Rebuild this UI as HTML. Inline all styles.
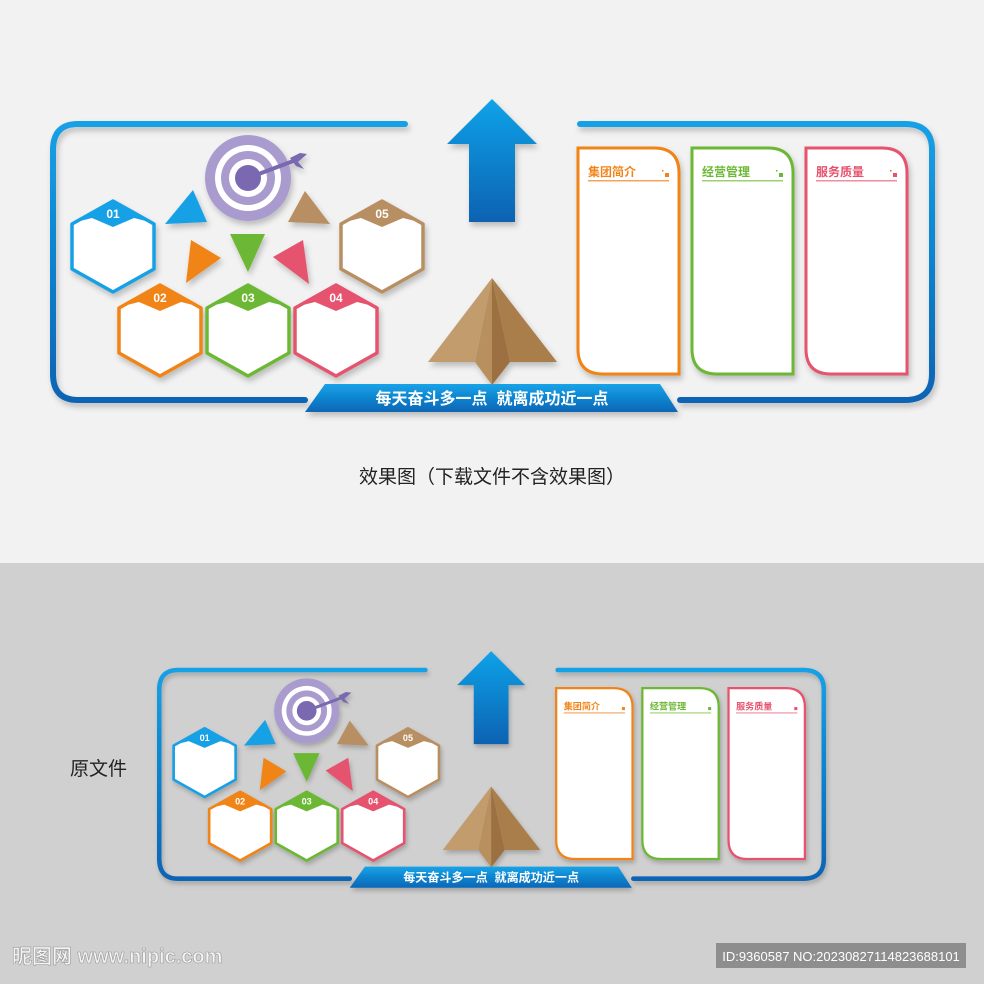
<!DOCTYPE html>
<html><head><meta charset="utf-8"><style>
html,body{margin:0;padding:0}
body{width:984px;height:984px;overflow:hidden;font-family:"Liberation Sans","Noto Sans CJK SC",sans-serif}
</style></head><body>
<svg width="984" height="984" viewBox="0 0 984 984" xmlns="http://www.w3.org/2000/svg" font-family="Liberation Sans, Noto Sans CJK SC, sans-serif">
<defs>
<linearGradient id="fr" x1="0" y1="0" x2="0" y2="1"><stop offset="0" stop-color="#14a0e6"/><stop offset="1" stop-color="#0a64b4"/></linearGradient>
<linearGradient id="ar" x1="0" y1="0" x2="0" y2="1"><stop offset="0" stop-color="#12a2e8"/><stop offset="1" stop-color="#0a62b2"/></linearGradient>
<linearGradient id="bn" x1="0" y1="0" x2="0" y2="1"><stop offset="0" stop-color="#15a3e8"/><stop offset="1" stop-color="#0a66b6"/></linearGradient>
<filter id="sh" x="-20%" y="-20%" width="140%" height="140%"><feDropShadow dx="2" dy="4" stdDeviation="3" flood-color="#000" flood-opacity="0.22"/></filter>
</defs>
<rect x="0" y="0" width="984" height="563" fill="#f2f2f2"/>
<rect x="0" y="563" width="984" height="421" fill="#d0d0d0"/>

<g id="scene">
<g filter="url(#sh)">
<path d="M405,124 H78 Q53,124 53,150 V374 Q53,400 78,400 H305" fill="none" stroke="url(#fr)" stroke-width="6" stroke-linecap="round"/>
<path d="M580,124 H905 Q932,124 932,150 V374 Q932,400 905,400 H680" fill="none" stroke="url(#fr)" stroke-width="6" stroke-linecap="round"/>
<polygon points="325,384 660,384 678,412 305,412" fill="url(#bn)"/>
<polygon points="492,99 537,144 515,144 515,222 469,222 469,144 447,144" fill="url(#ar)"/>
<!-- hexagons -->
<g stroke-width="3.5" stroke-linejoin="round">
<polygon points="113,201 154,224 154,269 113,292 72,269 72,224" fill="#fff" stroke="#16a0e6"/>
<polygon points="160,285 201,308 201,353 160,376 119,353 119,308" fill="#fff" stroke="#f08418"/>
<polygon points="248,285 289,308 289,353 248,376 207,353 207,308" fill="#fff" stroke="#6cb834"/>
<polygon points="336,285 377,308 377,353 336,376 295,353 295,308" fill="#fff" stroke="#e6526e"/>
<polygon points="382,201 423,224 423,269 382,292 341,269 341,224" fill="#fff" stroke="#b88f62"/>
</g>
<g>
<polygon points="113,201 150,222 134,218 113,227 92,218 76,222" fill="#16a0e6"/>
<polygon points="160,285 197,306 181,302 160,311 139,302 123,306" fill="#f08418"/>
<polygon points="248,285 285,306 269,302 248,311 227,302 211,306" fill="#6cb834"/>
<polygon points="336,285 373,306 357,302 336,311 315,302 299,306" fill="#e6526e"/>
<polygon points="382,201 419,222 403,218 382,227 361,218 345,222" fill="#b88f62"/>
</g>
<g fill="#fff" font-size="12" font-weight="bold" text-anchor="middle">
<text x="113" y="218">01</text><text x="160" y="302">02</text><text x="248" y="302">03</text><text x="336" y="302">04</text><text x="382" y="218">05</text>
</g>
<!-- triangles -->
<polygon points="165,224 207,222 193,190" fill="#16a0e6"/>
<polygon points="288,222 330,224 305,191" fill="#b88f62"/>
<polygon points="186,283 221,258 191,240" fill="#f08418"/>
<polygon points="230,234 265,234 248,272" fill="#6cb834"/>
<polygon points="273,257 309,284 303,240" fill="#e6526e"/>
<!-- target -->
<circle cx="248" cy="178" r="43" fill="#a99bcd"/>
<circle cx="248" cy="178" r="33" fill="#fff"/>
<circle cx="248" cy="178" r="27" fill="#a99bcd"/>
<circle cx="248" cy="178" r="19" fill="#fff"/>
<circle cx="248" cy="178" r="13" fill="#7a67b0"/>
<line x1="248" y1="178" x2="296" y2="160" stroke="#7a67b0" stroke-width="4" stroke-linecap="round"/>
<polygon points="290,158 300,153 307,154 298,162 304,169 296,166" fill="#7a67b0"/>
<!-- pyramid -->
<polygon points="492,278 428,362 475,362" fill="#c29c6c"/>
<polygon points="492,278 475,362 492,385" fill="#b8905f"/>
<polygon points="492,278 492,385 510,362" fill="#9c7040"/>
<polygon points="492,278 510,362 557,362" fill="#aa7e4c"/>
<!-- cards -->
<g stroke-width="3" fill="#fff">
<path d="M578,148 H654 Q679,148 679,173 V374 H603 Q578,374 578,349 Z" stroke="#f08418"/>
<path d="M692,148 H768 Q793,148 793,173 V374 H717 Q692,374 692,349 Z" stroke="#6cb834"/>
<path d="M806,148 H882 Q907,148 907,173 V374 H831 Q806,374 806,349 Z" stroke="#e6526e"/>
</g>
</g>
<g font-size="12" font-weight="bold">
<text x="588" y="176" fill="#f08418">集团简介</text>
<text x="702" y="176" fill="#6cb834">经营管理</text>
<text x="816" y="176" fill="#e6526e">服务质量</text>
</g>
<rect x="588" y="180" width="81" height="1.5" fill="#f4a45a"/>
<rect x="702" y="180" width="81" height="1.5" fill="#9ed070"/>
<rect x="816" y="180" width="81" height="1.5" fill="#ee8ea0"/>
<rect x="665" y="173" width="4" height="4" fill="#f08418"/><rect x="662" y="170" width="1.5" height="1.5" fill="#f08418"/>
<rect x="779" y="173" width="4" height="4" fill="#6cb834"/><rect x="776" y="170" width="1.5" height="1.5" fill="#6cb834"/>
<rect x="893" y="173" width="4" height="4" fill="#e6526e"/><rect x="890" y="170" width="1.5" height="1.5" fill="#e6526e"/>
<text x="492" y="404" fill="#fff" font-size="16" font-weight="bold" text-anchor="middle" xml:space="preserve">每天奋斗多一点  就离成功近一点</text>
</g>

<g transform="translate(157,667) scale(0.756) translate(-50,-120)">
<g filter="url(#sh)">
<path d="M405,124 H78 Q53,124 53,150 V374 Q53,400 78,400 H305" fill="none" stroke="url(#fr)" stroke-width="6" stroke-linecap="round"/>
<path d="M580,124 H905 Q932,124 932,150 V374 Q932,400 905,400 H680" fill="none" stroke="url(#fr)" stroke-width="6" stroke-linecap="round"/>
<polygon points="325,384 660,384 678,412 305,412" fill="url(#bn)"/>
<polygon points="492,99 537,144 515,144 515,222 469,222 469,144 447,144" fill="url(#ar)"/>
<g stroke-width="3.5" stroke-linejoin="round">
<polygon points="113,201 154,224 154,269 113,292 72,269 72,224" fill="#fff" stroke="#16a0e6"/>
<polygon points="160,285 201,308 201,353 160,376 119,353 119,308" fill="#fff" stroke="#f08418"/>
<polygon points="248,285 289,308 289,353 248,376 207,353 207,308" fill="#fff" stroke="#6cb834"/>
<polygon points="336,285 377,308 377,353 336,376 295,353 295,308" fill="#fff" stroke="#e6526e"/>
<polygon points="382,201 423,224 423,269 382,292 341,269 341,224" fill="#fff" stroke="#b88f62"/>
</g>
<g>
<polygon points="113,201 150,222 134,218 113,227 92,218 76,222" fill="#16a0e6"/>
<polygon points="160,285 197,306 181,302 160,311 139,302 123,306" fill="#f08418"/>
<polygon points="248,285 285,306 269,302 248,311 227,302 211,306" fill="#6cb834"/>
<polygon points="336,285 373,306 357,302 336,311 315,302 299,306" fill="#e6526e"/>
<polygon points="382,201 419,222 403,218 382,227 361,218 345,222" fill="#b88f62"/>
</g>
<g fill="#fff" font-size="12" font-weight="bold" text-anchor="middle">
<text x="113" y="218">01</text><text x="160" y="302">02</text><text x="248" y="302">03</text><text x="336" y="302">04</text><text x="382" y="218">05</text>
</g>
<polygon points="165,224 207,222 193,190" fill="#16a0e6"/>
<polygon points="288,222 330,224 305,191" fill="#b88f62"/>
<polygon points="186,283 221,258 191,240" fill="#f08418"/>
<polygon points="230,234 265,234 248,272" fill="#6cb834"/>
<polygon points="273,257 309,284 303,240" fill="#e6526e"/>
<circle cx="248" cy="178" r="43" fill="#a99bcd"/>
<circle cx="248" cy="178" r="33" fill="#fff"/>
<circle cx="248" cy="178" r="27" fill="#a99bcd"/>
<circle cx="248" cy="178" r="19" fill="#fff"/>
<circle cx="248" cy="178" r="13" fill="#7a67b0"/>
<line x1="248" y1="178" x2="296" y2="160" stroke="#7a67b0" stroke-width="4" stroke-linecap="round"/>
<polygon points="290,158 300,153 307,154 298,162 304,169 296,166" fill="#7a67b0"/>
<polygon points="492,278 428,362 475,362" fill="#c29c6c"/>
<polygon points="492,278 475,362 492,385" fill="#b8905f"/>
<polygon points="492,278 492,385 510,362" fill="#9c7040"/>
<polygon points="492,278 510,362 557,362" fill="#aa7e4c"/>
<g stroke-width="3" fill="#fff">
<path d="M578,148 H654 Q679,148 679,173 V374 H603 Q578,374 578,349 Z" stroke="#f08418"/>
<path d="M692,148 H768 Q793,148 793,173 V374 H717 Q692,374 692,349 Z" stroke="#6cb834"/>
<path d="M806,148 H882 Q907,148 907,173 V374 H831 Q806,374 806,349 Z" stroke="#e6526e"/>
</g>
</g>
<g font-size="12" font-weight="bold">
<text x="588" y="176" fill="#f08418">集团简介</text>
<text x="702" y="176" fill="#6cb834">经营管理</text>
<text x="816" y="176" fill="#e6526e">服务质量</text>
</g>
<rect x="588" y="180" width="81" height="1.5" fill="#f4a45a"/>
<rect x="702" y="180" width="81" height="1.5" fill="#9ed070"/>
<rect x="816" y="180" width="81" height="1.5" fill="#ee8ea0"/>
<rect x="665" y="173" width="4" height="4" fill="#f08418"/>
<rect x="779" y="173" width="4" height="4" fill="#6cb834"/>
<rect x="893" y="173" width="4" height="4" fill="#e6526e"/>
<text x="492" y="404" fill="#fff" font-size="16" font-weight="bold" text-anchor="middle" xml:space="preserve">每天奋斗多一点  就离成功近一点</text>
</g>

<text x="492" y="483" font-size="19" fill="#222" text-anchor="middle">效果图（下载文件不含效果图）</text>
<text x="70" y="775" font-size="19" fill="#222">原文件</text>
<text x="12" y="963" font-size="20" font-weight="bold" fill="#f4f4f4" stroke="#999" stroke-width="0.6">昵图网 www.nipic.com</text>
<rect x="716" y="943" width="250" height="25" fill="#8e8e8e"/>
<text x="841" y="961" font-size="13" fill="#fff" text-anchor="middle">ID:9360587 NO:20230827114823688101</text>
</svg>
</body></html>
